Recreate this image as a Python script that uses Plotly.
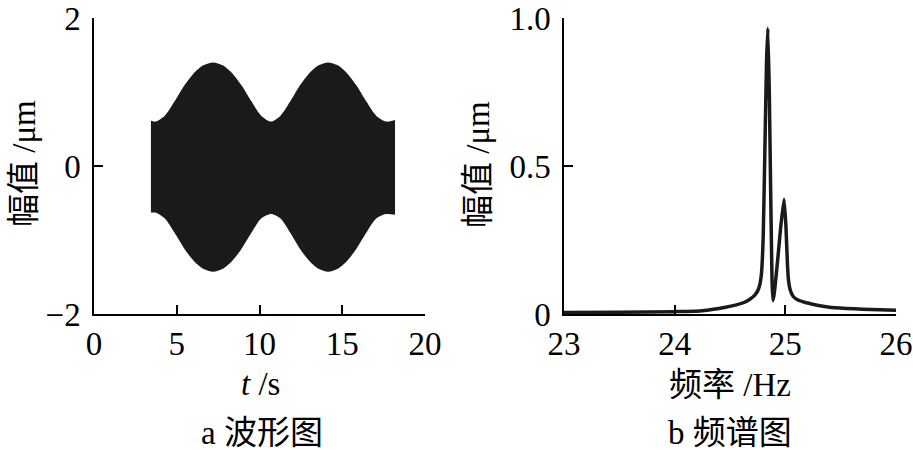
import plotly.graph_objects as go
from plotly.subplots import make_subplots

# waveform envelope (t in s, amplitude in um)
t_env = [3.44, 3.70, 4.28, 4.86, 5.44, 6.02, 6.60, 7.20, 7.78, 8.36, 8.94, 9.52,
         10.10, 10.70, 11.27, 11.85, 12.42, 13.00, 13.57, 14.15, 14.73, 15.30,
         15.88, 16.46, 17.05, 17.65, 18.19]
upper_env = [0.61, 0.60, 0.68, 0.87, 1.08, 1.25, 1.36, 1.40, 1.36, 1.25, 1.08, 0.87,
             0.68, 0.60, 0.68, 0.87, 1.08, 1.25, 1.36, 1.40, 1.36, 1.25,
             1.08, 0.87, 0.68, 0.60, 0.62]
lower_env = [-0.63, -0.63, -0.71, -0.90, -1.11, -1.28, -1.39, -1.43, -1.39, -1.28, -1.11, -0.90,
             -0.71, -0.65, -0.71, -0.90, -1.11, -1.28, -1.39, -1.43, -1.39, -1.28,
             -1.11, -0.90, -0.71, -0.65, -0.66]

# spectrum (Hz, um)
freq = [23.00, 23.50, 24.00, 24.23, 24.35, 24.45, 24.55, 24.62, 24.68, 24.72,
        24.75, 24.77, 24.785, 24.80, 24.815, 24.83, 24.842, 24.855, 24.868, 24.88,
        24.888, 24.90, 24.93, 24.96, 24.988, 25.005, 25.02, 25.03, 25.045, 25.07,
        25.11, 25.19, 25.30, 25.40, 25.55, 25.70, 25.85, 26.00]
amp = [0.005, 0.006, 0.008, 0.010, 0.016, 0.022, 0.030, 0.038, 0.050, 0.062,
       0.078, 0.100, 0.140, 0.260, 0.550, 0.850, 0.965, 0.750, 0.400, 0.110,
       0.045, 0.070, 0.180, 0.300, 0.388, 0.300, 0.160, 0.110, 0.080, 0.060,
       0.048, 0.038, 0.029, 0.023, 0.019, 0.016, 0.014, 0.013]

W, H = 913, 450
INK = '#1a1a1a'
FONT = 'Liberation Serif, Noto Sans CJK SC, serif'

fig = make_subplots(rows=1, cols=2)

fig.add_trace(go.Scatter(
    x=t_env, y=lower_env, mode='lines',
    line=dict(width=0, color=INK, shape='spline', smoothing=0.8),
    hoverinfo='skip'
), row=1, col=1)
fig.add_trace(go.Scatter(
    x=t_env, y=upper_env, mode='lines', fill='tonexty', fillcolor=INK,
    line=dict(width=0, color=INK, shape='spline', smoothing=0.8),
    hoverinfo='skip'
), row=1, col=1)

fig.add_trace(go.Scatter(
    x=freq, y=amp, mode='lines',
    line=dict(color=INK, width=3.5, shape='spline', smoothing=0.4)
), row=1, col=2)

axis_style = dict(showline=True, linecolor='black', linewidth=1.5, ticks='inside',
                  ticklen=9, tickwidth=1.5, tickcolor='black', showgrid=False,
                  zeroline=False, automargin=False, ticklabeloverflow='allow',
                  tickfont=dict(family=FONT, size=33, color='black'))

ydom = [1 - 314 / H, 1 - 18 / H]
fig.update_xaxes(**axis_style)
fig.update_yaxes(**axis_style, ticklabelstandoff=5)
fig.update_xaxes(range=[0, 20], tickvals=[0, 5, 10, 15, 20],
                 domain=[94 / W, 425 / W], row=1, col=1)
fig.update_yaxes(range=[-2, 2], tickvals=[-2, 0, 2], domain=ydom, row=1, col=1)
fig.update_xaxes(range=[23, 26], tickvals=[23, 24, 25, 26],
                 domain=[564 / W, 896 / W], row=1, col=2)
fig.update_yaxes(range=[0, 1], tickvals=[0, 0.5, 1.0], ticktext=['0', '0.5', '1.0'],
                 domain=ydom, row=1, col=2)


def note(text, px, py, angle=0):
    fig.add_annotation(text=text, x=px / W, y=1 - py / H, xref='paper', yref='paper',
                       xanchor='center', yanchor='middle', showarrow=False,
                       textangle=angle, font=dict(family=FONT, size=33, color='black'))


note('<i>t</i> /s', 260, 384)
note('a 波形图', 262, 433)
note('幅值 /μm', 24, 164, -90)
note('频率 /Hz', 730, 385)
note('b 频谱图', 730, 433)
note('幅值 /μm', 478, 164, -90)

fig.update_layout(width=W, height=H, margin=dict(l=0, r=0, t=0, b=0),
                  plot_bgcolor='white', paper_bgcolor='white', showlegend=False)

# page body has a default margin; drop it so the figure sits at the window origin
fig.write_html("out.html", config={'displayModeBar': False},
               post_script="document.body.style.margin='0';")
